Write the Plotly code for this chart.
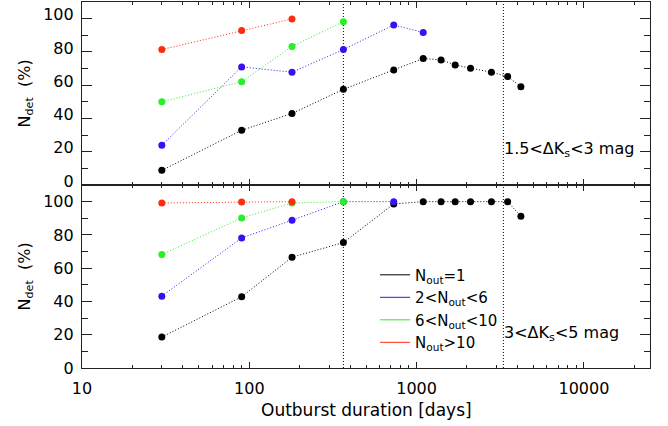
import plotly.graph_objects as go
from plotly.subplots import make_subplots

# ---- data ----
days_all = [30, 90, 180, 365, 730, 1095, 1400, 1700, 2100, 2800, 3500, 4200]

# top panel: 1.5 < dKs < 3 mag
top_n1 = [8.8, 32.9, 43.0, 57.5, 69.2, 76.0, 75.2, 72.2, 70.2, 67.8, 65.2, 59.1]
top_n2_6_days = [30, 90, 180, 365, 730, 1095]
top_n2_6 = [23.9, 71.0, 67.8, 81.4, 96.2, 91.7]
top_n6_10_days = [30, 90, 180, 365]
top_n6_10 = [50.0, 62.1, 83.3, 98.2]
top_n10_days = [30, 90, 180]
top_n10 = [81.4, 92.9, 99.8]

# bottom panel: 3 < dKs < 5 mag
bot_n1 = [18.6, 42.8, 66.6, 75.4, 98.6, 100, 100, 100, 100, 100, 100, 91.2]
bot_n2_6_days = [30, 90, 180, 365, 730]
bot_n2_6 = [43.2, 78.2, 88.8, 100, 100]
bot_n6_10_days = [30, 90, 180, 365]
bot_n6_10 = [68.2, 90.2, 99.2, 100]
bot_n10_days = [30, 90, 180]
bot_n10 = [99.2, 99.8, 100]

vlines = [365, 3300]
legend_names = ["N<sub>out</sub>=1", "2&lt;N<sub>out</sub>&lt;6",
                "6&lt;N<sub>out</sub>&lt;10", "N<sub>out</sub>&gt;10"]
colors = ["#000000", "#3a10f0", "#28f028", "#ff2a10"]
panel_labels = ["1.5&lt;ΔK<sub>s</sub>&lt;3 mag", "3&lt;ΔK<sub>s</sub>&lt;5 mag"]

x_major = [10, 100, 1000, 10000]
x_minor = [m * d for d in (10, 100, 1000) for m in range(2, 10)] + [20000]

FONT = "DejaVu Sans"

fig = make_subplots(rows=2, cols=1, shared_xaxes=True, vertical_spacing=0)

# vertical dotted reference lines
for row in (1, 2):
    for v in vlines:
        fig.add_trace(go.Scatter(x=[v, v], y=[0, 110], mode="lines",
                                 line=dict(color="black", width=1, dash="1px,2px"),
                                 showlegend=False, hoverinfo="skip"), row=row, col=1)

panels = [
    [(days_all, top_n1), (top_n2_6_days, top_n2_6), (top_n6_10_days, top_n6_10), (top_n10_days, top_n10)],
    [(days_all, bot_n1), (bot_n2_6_days, bot_n2_6), (bot_n6_10_days, bot_n6_10), (bot_n10_days, bot_n10)],
]
for r, series in enumerate(panels, start=1):
    for (xs, ys), c in zip(series, colors):
        fig.add_trace(go.Scatter(x=xs, y=ys, mode="lines+markers",
                                 line=dict(color=c, width=1, dash="1px,2px"),
                                 marker=dict(color=c, size=7),
                                 showlegend=False), row=r, col=1)

# legend entries (solid lines)
for name, c in zip(legend_names, colors):
    fig.add_trace(go.Scatter(x=[None], y=[None], mode="lines", name=name,
                             line=dict(color=c, width=1)), row=2, col=1)

xax = dict(type="log", range=[1, 4.395], tickvals=x_major,
           ticktext=[str(v) for v in x_major],
           ticks="inside", ticklen=6, tickwidth=1, tickcolor="#222",
           minor=dict(tickvals=x_minor, ticks="inside", ticklen=3, tickcolor="#222", tickwidth=1),
           showline=True, linecolor="#222", linewidth=1.2, mirror="ticks",
           showgrid=False, zeroline=False,
           tickfont=dict(family=FONT, size=16, color="black"))
fig.update_xaxes(**xax)
fig.update_xaxes(showticklabels=False, row=1, col=1)
fig.update_xaxes(ticklabelstandoff=6, row=2, col=1)

yax = dict(range=[0, 110], dtick=20, tick0=0,
           ticks="inside", ticklen=10, tickwidth=1, tickcolor="#222",
           minor=dict(dtick=10, ticks="inside", ticklen=6, tickcolor="#222", tickwidth=1),
           showline=True, linecolor="#222", linewidth=1.2, mirror="ticks",
           showgrid=False, zeroline=False, ticklabelstandoff=4,
           tickfont=dict(family=FONT, size=16, color="black"))
fig.update_yaxes(**yax)
fig.update_yaxes(ticklabelshift=-4, row=1, col=1)

annotations = [
    dict(text=panel_labels[0], x=0.975, y=0.596, xref="paper", yref="paper",
         xanchor="right", yanchor="middle", showarrow=False,
         font=dict(family=FONT, size=16, color="black")),
    dict(text=panel_labels[1], x=0.949, y=0.093, xref="paper", yref="paper",
         xanchor="right", yanchor="middle", showarrow=False,
         font=dict(family=FONT, size=16, color="black")),
    dict(text="Outburst duration [days]", x=0.5, y=0, xref="paper", yref="paper",
         xanchor="center", yanchor="middle", yshift=-42, showarrow=False,
         font=dict(family=FONT, size=17, color="black")),
]
for yc in (0.75, 0.25):
    annotations.append(dict(text="N<sub>det</sub>  (%)", x=0, y=yc, xref="paper", yref="paper",
                            xanchor="center", yanchor="middle", xshift=-57, textangle=-90,
                            showarrow=False, font=dict(family=FONT, size=16, color="black")))

fig.update_layout(
    width=668, height=426,
    margin=dict(l=82, r=18, t=2, b=58),
    paper_bgcolor="white", plot_bgcolor="white",
    showlegend=True,
    legend=dict(x=0.516, y=0.299, xanchor="left", yanchor="top",
                bgcolor="rgba(0,0,0,0)", borderwidth=0,
                font=dict(family=FONT, size=15, color="black"),
                itemwidth=30, tracegroupgap=0),
    annotations=annotations,
)

fig.write_html("out.html", config={"displayModeBar": False},
               post_script="document.body.style.margin='0px';")
